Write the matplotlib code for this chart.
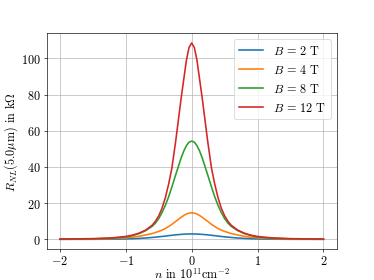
import numpy as np
import matplotlib
matplotlib.use('Agg')
import matplotlib.pyplot as plt

plt.rcParams['font.family'] = 'serif'
plt.rcParams['font.serif'] = ['cmr10']
plt.rcParams['mathtext.fontset'] = 'cm'
plt.rcParams['axes.formatter.use_mathtext'] = True
plt.rcParams['font.size'] = 15

# carrier density in 10^11 cm^-2
n = [-2.0, -1.5, -1.2, -1.0, -0.9, -0.8, -0.7, -0.6, -0.55, -0.5, -0.45, -0.4,
     -0.35, -0.3, -0.24, -0.2, -0.16, -0.12, -0.08, -0.04, 0.0,
     0.04, 0.08, 0.12, 0.16, 0.2, 0.24, 0.3, 0.35, 0.4, 0.45, 0.5,
     0.55, 0.6, 0.7, 0.8, 0.9, 1.0, 1.2, 1.5, 2.0]

# nonlocal resistance in kOhm
r_2T = [0.02, 0.05, 0.12, 0.25, 0.36, 0.52, 0.75, 1.05, 1.22, 1.4, 1.6, 1.8,
        2.05, 2.25, 2.5, 2.63, 2.75, 2.85, 2.93, 2.98, 3.0,
        2.98, 2.93, 2.85, 2.75, 2.63, 2.5, 2.25, 2.05, 1.8, 1.6, 1.4,
        1.22, 1.05, 0.75, 0.52, 0.36, 0.25, 0.12, 0.05, 0.02]
r_4T = [0.05, 0.15, 0.4, 0.85, 1.2, 1.7, 2.4, 3.2, 3.8, 4.4, 5.1, 6.0,
        7.1, 8.3, 10.0, 11.1, 12.2, 13.2, 14.0, 14.5, 14.7,
        14.5, 14.0, 13.2, 12.2, 11.1, 10.0, 8.3, 7.1, 6.0, 5.1, 4.4,
        3.8, 3.2, 2.4, 1.7, 1.2, 0.85, 0.4, 0.15, 0.05]
r_8T = [0.1, 0.25, 0.6, 1.3, 2.1, 3.2, 4.8, 7.2, 9.0, 11.5, 14.8, 18.8,
        23.5, 29.0, 36.0, 40.5, 45.0, 48.8, 51.8, 53.7, 54.3,
        53.7, 51.8, 48.8, 45.0, 40.5, 36.0, 29.0, 23.5, 18.8, 14.8, 11.5,
        9.0, 7.2, 4.8, 3.2, 2.1, 1.3, 0.6, 0.25, 0.1]
r_12T = [0.15, 0.4, 0.85, 1.6, 2.3, 3.4, 5.1, 7.8, 10.0, 13.0, 17.2, 23.0,
         30.5, 39.5, 55.0, 66.5, 78.0, 88.5, 99.0, 106.0, 108.5,
         106.0, 99.0, 88.5, 78.0, 66.5, 55.0, 39.5, 30.5, 23.0, 17.2, 13.0,
         10.0, 7.8, 5.1, 3.4, 2.3, 1.6, 0.85, 0.4, 0.15]

fields = [2, 4, 8, 12]
curves = [r_2T, r_4T, r_8T, r_12T]

fig, ax = plt.subplots(figsize=(6.4, 4.8), dpi=58.44)

for B, r in zip(fields, curves):
    ax.plot(n, r, lw=2.0, label=r'$B\,=\,%d$ T' % B)

ax.set_xticks([-2, -1, 0, 1, 2])
ax.set_xlabel(r'$n$ in $10^{11}$cm$^{-2}$', labelpad=-1.6)
ax.set_ylabel(r'$R_{NL}(5.0\mu\mathrm{m})$ in k$\Omega$', labelpad=2)
ax.grid(True)
ax.legend(loc='upper right')

fig.savefig('out.png', dpi=58.44)
